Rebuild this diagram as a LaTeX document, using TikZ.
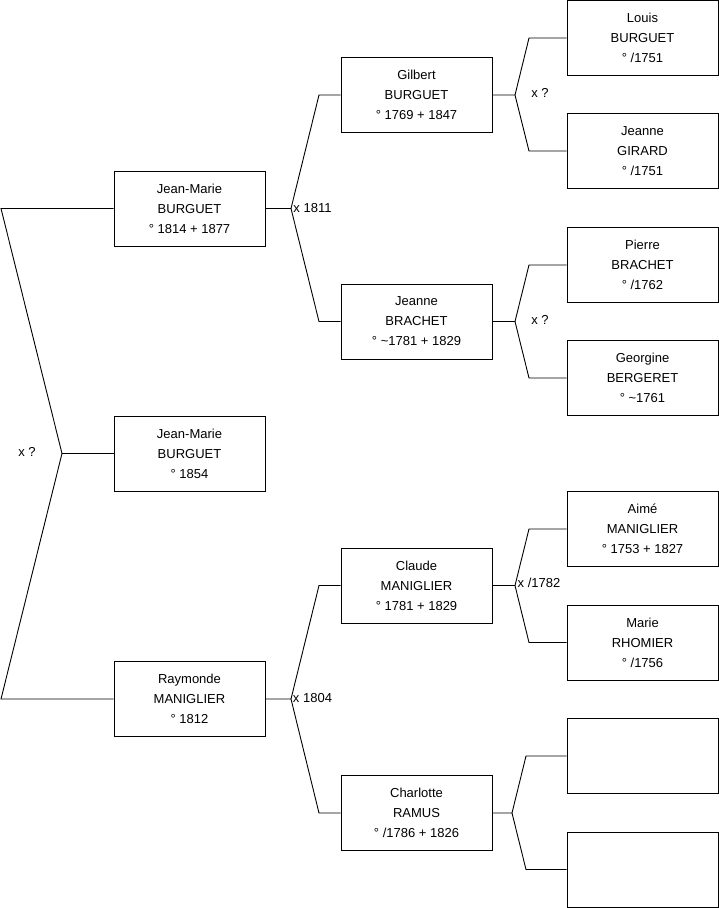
\documentclass[tikz,border=0pt]{standalone}
\usepackage{fontspec}
\setmainfont{Liberation Sans}
\usepackage{tikz}
\usetikzlibrary{positioning, calc}

\begin{document}
\begin{tikzpicture}[
    x=1pt, y=-1pt,
    every node/.style={font=\fontsize{13}{20}\selectfont, align=center},
    person/.style={draw, line width=0.9pt, minimum width=151pt, minimum height=75pt,
                   inner sep=0pt},
    link/.style={line width=0.9pt},
    union/.style={inner sep=0pt}
]
\useasboundingbox (0,0) rectangle (719,908);

% children generation
\node[person] (jm)  at (189.5,208.5) {Jean-Marie\\BURGUET\\° 1814 + 1877};
\node[person] (jm2) at (189.5,453.5) {Jean-Marie\\BURGUET\\° 1854};
\node[person] (ray) at (189.5,699)   {Raymonde\\MANIGLIER\\° 1812};

% parents
\node[person] (gil) at (416.5,95)    {Gilbert\\BURGUET\\° 1769 + 1847};
\node[person] (jb)  at (416.5,321.5) {Jeanne\\BRACHET\\° \textasciitilde1781 + 1829};
\node[person] (cla) at (416.5,585.5) {Claude\\MANIGLIER\\° 1781 + 1829};
\node[person] (cha) at (416.5,813)   {Charlotte\\RAMUS\\° /1786 + 1826};

% grandparents
\node[person] (lou) at (642.5,38)    {Louis\\BURGUET\\° /1751};
\node[person] (jg)  at (642.5,151)   {Jeanne\\GIRARD\\° /1751};
\node[person] (pie) at (642.5,265)   {Pierre\\BRACHET\\° /1762};
\node[person] (geo) at (642.5,378)   {Georgine\\BERGERET\\° \textasciitilde1761};
\node[person] (aim) at (642.5,529)   {Aimé\\MANIGLIER\\° 1753 + 1827};
\node[person] (mar) at (642.5,642.5) {Marie\\RHOMIER\\° /1756};
\node[person] (e1)  at (642.5,756)   {};
\node[person] (e2)  at (642.5,869.5) {};

% root union
\coordinate (r0) at (62,453.5);
\draw[link] (jm.west) -- (1,208.5) -- (r0) -- (1,699) -- (ray.west);
\draw[link] (r0) -- (jm2.west);
\node[union] (ur) at (27,452) {x ?};

% unions of the parents
\coordinate (j1) at (291,208.5);
\draw[link] (jm.east) -- (j1) -- (319,95) -- (gil.west);
\draw[link] (j1) -- (319,321.5) -- (jb.west);
\node[union] (u1) at (312.5,208) {x 1811};

\coordinate (j2) at (291,699);
\draw[link] (ray.east) -- (j2) -- (319,585.5) -- (cla.west);
\draw[link] (j2) -- (319,813) -- (cha.west);
\node[union] (u2) at (312.5,698) {x 1804};

% unions of the grandparents
\coordinate (j3) at (515,95);
\draw[link] (gil.east) -- (j3) -- (529,38) -- (lou.west);
\draw[link] (j3) -- (529,151) -- (jg.west);
\node[union] (u3) at (540,93) {x ?};

\coordinate (j4) at (515,321.5);
\draw[link] (jb.east) -- (j4) -- (529,265) -- (pie.west);
\draw[link] (j4) -- (529,378) -- (geo.west);
\node[union] (u4) at (540,320) {x ?};

\coordinate (j5) at (515,585.5);
\draw[link] (cla.east) -- (j5) -- (529,529) -- (aim.west);
\draw[link] (j5) -- (529,642.5) -- (mar.west);
\node[union] (u5) at (539,583) {x /1782};

\coordinate (j6) at (512,813);
\draw[link] (cha.east) -- (j6) -- (526,756) -- (e1.west);
\draw[link] (j6) -- (526,869.5) -- (e2.west);
\end{tikzpicture}
\end{document}
